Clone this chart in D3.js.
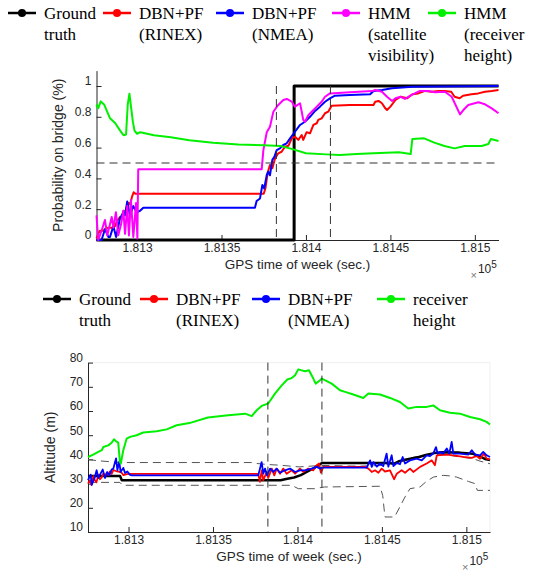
<!DOCTYPE html>
<html>
<head>
<meta charset="utf-8">
<script src="https://cdn.jsdelivr.net/npm/d3@7"></script>
<style>
  body { margin: 0; background: #fff; }
  svg { display: block; }
  .sans { font-family: "Liberation Sans", Arial, sans-serif; }
  .serif { font-family: "Liberation Serif", "Times New Roman", serif; }
</style>
</head>
<body>
<script>
// GPS time of week, seconds; series times are offsets from T0
const T0 = 181276;
const T_END = 181514;
const xTickValues = [181300, 181350, 181400, 181450, 181500];
const xTickLabels = ['1.813', '1.8135', '1.814', '1.8145', '1.815'];
const bridgeMarks = [106.5, 138.5];   // dashed vertical markers (offset s)

const topYTicks = [0, 0.2, 0.4, 0.6, 0.8, 1];
const topYLabels = ['0', '0.2', '0.4', '0.6', '0.8', '1'];
const botYTicks = [10, 20, 30, 40, 50, 60, 70, 80];

const topLegend = [
  { name: ['Ground', 'truth'], color: '#000000' },
  { name: ['DBN+PF', '(RINEX)'], color: '#ff0000' },
  { name: ['DBN+PF', '(NMEA)'], color: '#0000ff' },
  { name: ['HMM', '(satellite', 'visibility)'], color: '#ff00ff' },
  { name: ['HMM', '(receiver', 'height)'], color: '#00f000' }
];
const botLegend = [
  { name: ['Ground', 'truth'], color: '#000000' },
  { name: ['DBN+PF', '(RINEX)'], color: '#ff0000' },
  { name: ['DBN+PF', '(NMEA)'], color: '#0000ff' },
  { name: ['receiver', 'height'], color: '#00f000' }
];

// ---- top panel: probability on bridge ----
const topGround = [[0, 0], [117, 0], [117, 1], [238, 1]];

const topRinex = [[0, 0.01], [1, 0.04], [2, 0.06], [4, 0.06], [5, 0.07], [7, 0.08], [9, 0.08], [11, 0.09],
  [12, 0.12], [14, 0.15], [15, 0.14], [16, 0.19], [17, 0.18], [18, 0.22], [19, 0.24], [20, 0.23], [21, 0.28],
  [22, 0.31], [23, 0.3], [99, 0.3], [100, 0.335], [101.4, 0.44], [102.7, 0.487], [104.1, 0.466], [105.7, 0.53],
  [107.6, 0.563], [109.6, 0.573], [111.6, 0.606], [113.6, 0.612], [115.6, 0.66], [117.5, 0.671], [119.5, 0.65],
  [121.5, 0.682], [122.4, 0.65], [124.4, 0.70], [126.4, 0.693], [128.4, 0.747], [130.4, 0.758], [131.3, 0.78],
  [133.3, 0.79], [135.3, 0.823], [137.2, 0.833], [139.2, 0.872], [150, 0.877], [164, 0.877], [165, 0.898],
  [167, 0.903], [169, 0.888], [171, 0.855], [172, 0.844], [174, 0.866], [177, 0.909], [180, 0.93], [184, 0.92],
  [187, 0.946], [190.5, 0.952], [194.5, 0.968], [198.5, 0.963], [202.5, 0.968], [206, 0.968], [210, 0.963],
  [212, 0.93], [215, 0.92], [217, 0.937], [222, 0.946], [226, 0.952], [230, 0.963], [234, 0.968], [238, 0.974]];

const topNmea = [[0, 0], [3, 0], [5, 0.07], [7, 0.02], [8, 0.02], [10, 0.09], [11.6, 0.02], [13.9, 0.14],
  [15.9, 0.18], [16.9, 0.16], [18.2, 0.25], [19.8, 0.16], [21.8, 0.22], [23.8, 0.18], [25.8, 0.19], [27.7, 0.21],
  [93.8, 0.21], [94.8, 0.253], [96.8, 0.27], [98.2, 0.357], [99.3, 0.335], [100.8, 0.422], [101.7, 0.443],
  [102.7, 0.42], [104.1, 0.52], [105.3, 0.54], [106.7, 0.584], [108.6, 0.595], [110.6, 0.617], [112.6, 0.628],
  [114.6, 0.66], [117.5, 0.703], [120.5, 0.747], [123.4, 0.768], [126.4, 0.80], [129.4, 0.838], [132.3, 0.866],
  [135.3, 0.898], [138.2, 0.92], [141.2, 0.937], [150, 0.942], [162, 0.946], [164, 0.968], [169, 0.974],
  [175, 0.985], [187, 0.995], [238, 1.0]];

const topSatVis = [[0, 0.16], [1, 0], [3, 0.06], [5, 0.13], [6.4, 0.03], [9, 0.15], [10, 0.08], [11.5, 0.18],
  [12.9, 0.03], [14.5, 0.1], [15.9, 0.19], [16.9, 0.04], [18.2, 0.22], [19.2, 0.03], [20.4, 0.26], [21.8, 0.02],
  [23.4, 0.24], [24.2, 0.01], [24.7, 0.46], [97.8, 0.46], [98.8, 0.584], [100.8, 0.70], [102.7, 0.736],
  [104.7, 0.833], [107.6, 0.877], [110.6, 0.909], [112.6, 0.916], [115.6, 0.898], [117.5, 0.866], [120.5, 0.888],
  [121.5, 0.833], [122.4, 0.78], [123.4, 0.768], [125.4, 0.81], [127.4, 0.833], [130.4, 0.866], [133.3, 0.898],
  [135.3, 0.93], [138.2, 0.952], [150, 0.959], [163, 0.967], [165, 0.974], [169, 0.963], [172, 0.93],
  [175, 0.903], [177, 0.92], [180, 0.93], [182.6, 0.916], [186.6, 0.942], [191.5, 0.968], [196.4, 0.968],
  [200.4, 0.959], [206.3, 0.963], [210.3, 0.93], [215.2, 0.816], [217.2, 0.844], [220.1, 0.877], [226.1, 0.894],
  [230, 0.881], [234, 0.855], [238, 0.823]];

const topHeight = [[0, 0.88], [1, 0.855], [2.5, 0.90], [4.5, 0.88], [8, 0.79], [11, 0.76], [14, 0.71],
  [16, 0.68], [17.5, 0.685], [18.5, 0.88], [19.5, 0.95], [20.5, 0.86], [21.5, 0.77], [22.5, 0.71], [24, 0.69],
  [26, 0.70], [34, 0.68], [44, 0.667], [55, 0.648], [69, 0.632], [84, 0.62], [99, 0.615], [109, 0.61],
  [116, 0.59], [124, 0.563], [136, 0.556], [144, 0.552], [154, 0.558], [164, 0.563], [179, 0.57], [186, 0.558],
  [187, 0.656], [194, 0.66], [200, 0.632], [206, 0.61], [212, 0.595], [218, 0.61], [228, 0.61], [232, 0.623],
  [233.5, 0.656], [238, 0.643]];

// ---- bottom panel: altitude (m) ----
const botGround = [[0, 33.1], [19, 33.1], [20, 31.4], [114, 31.4], [118, 32], [122, 32.5], [126, 33.5],
  [130, 35], [134, 36.5], [138.5, 38.5], [178, 38.5], [181, 38.2], [184, 39.2], [190, 40.2], [196, 41],
  [200, 41.8], [205, 42.6], [210, 43], [220, 42.8], [228, 42.3], [232, 41.2], [235, 40.2], [238, 39.7]];

const botRinex = [[0, 30], [1.2, 31.4], [2, 29.5], [3.2, 33.1], [4.1, 31.4], [5, 30.5], [6.1, 33.7], [7.1, 31.8],
  [8, 32.5], [9.1, 34.2], [10, 32.8], [11.1, 34.5], [12, 33.5], [13, 35], [14, 34], [15, 35.6], [16.6, 35.2],
  [17.9, 35], [19.9, 34.5], [21, 33.5], [22.9, 33.9], [25, 34], [100.8, 34], [101.8, 30.7], [102.8, 35.5],
  [103.8, 31.4], [105.8, 34.8], [106.7, 32.3], [108.8, 36.2], [110.3, 33.4], [111.7, 36.2], [113.7, 34.1],
  [115.6, 36.2], [117.6, 34.1], [120.6, 35.5], [122.6, 34.1], [125.5, 36.2], [127.5, 34.8], [130.4, 36.2],
  [133.4, 35.5], [135.4, 37.6], [136.8, 38.3], [137.9, 34.5], [139.3, 36.9], [164, 36.9], [166, 36.2],
  [168, 34.8], [169.9, 35.5], [171.9, 34.5], [173.9, 36.2], [175.8, 35], [178.8, 35.5], [181.2, 31.8],
  [182.8, 34.1], [185.7, 35.5], [187.7, 34.5], [190.6, 36.2], [192.6, 34.8], [196.6, 36.9], [200.5, 38.3],
  [203.5, 39.6], [205.4, 37.6], [206.5, 41.7], [212.4, 42], [216.3, 41.7], [222.2, 41], [227.2, 40.6],
  [230.1, 41.4], [232.1, 40.3], [234.5, 42.4], [236, 40.3], [238, 40]];

const botNmea = [[0, 31.4], [1.6, 33.7], [2.2, 29.5], [4.1, 32.8], [5.1, 35.5], [6.1, 32.3], [7.1, 33.7],
  [8.7, 35.8], [10.1, 32.3], [11.4, 34.8], [12.6, 33.4], [14, 35.8], [15, 36.2], [16.6, 40.4], [17.4, 35.6],
  [18.5, 39.1], [19.3, 34.8], [20.9, 36.5], [21.9, 34.4], [23.3, 35], [24.9, 33.6], [26, 33.4], [100.8, 33.4],
  [102.8, 38.9], [103.8, 34.1], [104.8, 36.2], [106, 33.4], [107.8, 36.2], [109.7, 34.8], [111.7, 36.2],
  [113.7, 34.5], [116.6, 35.5], [119.6, 36.2], [122.6, 34.8], [125.5, 35.5], [128.5, 35.5], [132.4, 36.2],
  [135.4, 36.9], [137.4, 36.2], [138.4, 36.6], [165, 36.6], [167, 39.6], [168, 36.9], [169, 38.9], [171, 37],
  [172.9, 38.3], [174.8, 37.2], [176.8, 42.4], [177.8, 37], [179.8, 41.7], [180.8, 37.2], [182.8, 38.5],
  [184.7, 38], [186.3, 41], [187.7, 38.3], [190.6, 39.6], [194.6, 40.3], [197.6, 39.6], [200.5, 41.7],
  [202.5, 41.4], [204.4, 42.4], [206, 45.1], [207, 42.4], [208.4, 43.1], [210.3, 42.4], [212.4, 44.5],
  [213.9, 42.4], [215.3, 47.2], [216.3, 42.4], [220.2, 42.4], [225.2, 42], [227.2, 43.8], [229.2, 42],
  [232.1, 41.7], [234, 43.1], [236, 41.7], [238, 41]];

const botHeight = [[0, 41], [3.1, 42], [6.1, 43.1], [8.1, 43.8], [9.1, 45.1], [12, 45.8], [14, 46.9],
  [15.4, 48.3], [16.6, 47.5], [17.9, 46.9], [18.9, 38.9], [19.4, 38.3], [20.9, 43.8], [22.9, 48.6], [24.9, 49.3],
  [28.8, 50], [32.7, 51.1], [40.7, 51.6], [46.6, 52.4], [52.5, 54.1], [60, 55], [71, 57.3], [83, 58.2],
  [93, 58.9], [96.9, 57.9], [99.9, 60.3], [102.8, 62.1], [106.7, 63.1], [110.7, 67.2], [114.7, 70.6], [118, 73],
  [120.6, 73.6], [122.6, 74.8], [124.5, 77.2], [126.5, 76.8], [128.5, 76.4], [130.8, 76.8], [133.4, 73.4],
  [134.8, 71.3], [137.4, 72.7], [138.4, 73.4], [144.3, 71.3], [149.2, 68.6], [152.2, 67.9], [157.1, 66.8],
  [163, 65.4], [166, 67.2], [172.9, 66.8], [178.8, 65.4], [184.7, 63.7], [189.6, 61], [194.6, 61.7],
  [200.5, 61.7], [204.4, 62.3], [208.4, 60.3], [214.3, 59.3], [220.2, 58.9], [226.2, 57.5], [232.1, 56.6],
  [236, 55.5], [238, 54.4]];

const botUpper = [[0, 40], [5, 39.5], [18.9, 38.7], [96.9, 38.7], [100, 38.3], [106, 37.9], [113.7, 37.6],
  [125, 36.9], [138, 37.5], [160, 37.2], [175, 37.5], [185, 39.5], [190, 40.5], [204, 42.4], [214, 41.7],
  [220, 41], [228, 40.3], [232, 39.3], [238, 38.2]];

const botLower = [[0, 30.5], [18.9, 30.5], [20.5, 29.3], [120.6, 29.3], [124.5, 27.9], [134, 27.9],
  [140, 28.6], [172.9, 28.9], [174.5, 25], [175.8, 16.2], [181.5, 16.2], [184.7, 20.5], [187.7, 24.5],
  [190.6, 27.9], [196.6, 28.6], [200.5, 31], [204.5, 32.7], [210.3, 33.4], [214, 33.2], [218.2, 32.7],
  [225.2, 30.9], [229.1, 30], [230.5, 27.2], [238, 27.2]];

const svg = d3.select('body').append('svg')
  .attr('width', 556)
  .attr('height', 574)
  .style('background', '#fff');

const axisColor = '#262626';

function drawPanel(x, y, yTicks, yLabels, yTitle, yTitleX) {
  const g = svg.append('g').attr('class', 'sans');
  const [x0, x1] = x.range();
  const [yb, yt] = y.range();

  const xAxis = d3.axisBottom(x)
    .tickValues(xTickValues)
    .tickFormat((d, i) => xTickLabels[i])
    .tickSizeInner(-5).tickSizeOuter(0).tickPadding(3);
  const yAxis = d3.axisLeft(y)
    .tickValues(yTicks)
    .tickFormat((d, i) => yLabels[i])
    .tickSizeInner(-5).tickSizeOuter(0).tickPadding(5);

  const gx = g.append('g').attr('transform', `translate(0, ${yb})`).call(xAxis);
  const gy = g.append('g').attr('transform', `translate(${x0}, 0)`).call(yAxis);
  gy.selectAll('.tick text').attr('y', -5);
  [gx, gy].forEach(a => {
    a.attr('font-family', null).attr('font-size', null);
    a.selectAll('path, line').attr('stroke', axisColor);
    a.selectAll('text').attr('fill', axisColor).style('font-size', '12px');
  });

  g.append('text')
    .attr('x', (x0 + x1) / 2)
    .attr('y', yb + 29)
    .attr('text-anchor', 'middle')
    .attr('fill', axisColor)
    .style('font-size', '13.5px')
    .text('GPS time of week (sec.)');

  g.append('text')
    .attr('transform', `translate(${yTitleX}, ${(yb + yt) / 2}) rotate(-90)`)
    .attr('text-anchor', 'middle')
    .attr('dy', '0.35em')
    .attr('fill', axisColor)
    .style('font-size', '14px')
    .text(yTitle);

  // x10^5 multiplier
  const m = g.append('text')
    .attr('x', x1 - 28)
    .attr('y', yb + 39)
    .attr('fill', axisColor);
  m.append('tspan').style('font-size', '11px').attr('fill', '#777').text('\u00d7');
  m.append('tspan').attr('dx', 1).attr('dy', -6).style('font-size', '12px').text('10');
  m.append('tspan').attr('dy', -5).style('font-size', '10px').text('5');

  return g;
}

function dashed(g, pts) {
  g.append('path')
    .attr('d', d3.line()(pts))
    .attr('fill', 'none')
    .attr('stroke', '#333')
    .attr('stroke-width', 1)
    .attr('stroke-dasharray', '8,5');
}

function series(g, x, y, data, color, width) {
  const line = d3.line()
    .x(d => x(T0 + d[0]))
    .y(d => y(d[1]));
  g.append('path')
    .datum(data)
    .attr('d', line)
    .attr('fill', 'none')
    .attr('stroke', color)
    .attr('stroke-width', width)
    .attr('stroke-linejoin', 'round');
}

function legend(entries, starts, y0) {
  const lg = svg.append('g').attr('class', 'serif');
  entries.forEach((e, i) => {
    const sx = starts[i];
    lg.append('line')
      .attr('x1', sx).attr('x2', sx + 28)
      .attr('y1', y0).attr('y2', y0)
      .attr('stroke', e.color).attr('stroke-width', 2.5);
    lg.append('circle')
      .attr('cx', sx + 14).attr('cy', y0).attr('r', 4)
      .attr('fill', e.color);
    e.name.forEach((t, j) => {
      lg.append('text')
        .attr('x', sx + 36)
        .attr('y', y0 + 6 + j * 21)
        .attr('fill', '#000')
        .style('font-size', '17px')
        .text(t);
    });
  });
}

// ---------- top ----------
const topX = d3.scaleLinear().domain([T0, T_END]).range([96.5, 498.5]);
const topY = d3.scaleLinear().domain([0, 1.1]).range([240, 70.6]);
const gTop = drawPanel(topX, topY, topYTicks, topYLabels, 'Probability on bridge (%)', 58);

series(gTop, topX, topY, topGround, '#000', 3);
series(gTop, topX, topY, topRinex, '#ff0000', 2);
series(gTop, topX, topY, topNmea, '#0000ff', 2);
series(gTop, topX, topY, topSatVis, '#ff00ff', 2);
series(gTop, topX, topY, topHeight, '#00f000', 2);

dashed(gTop, [[topX(T0), topY(0.5)], [topX(T_END), topY(0.5)]]);
bridgeMarks.forEach(t => dashed(gTop, [[topX(T0 + t), topY(1)], [topX(T0 + t), topY(0)]]));

legend(topLegend, [8, 103, 216, 332, 428], 13);

// ---------- bottom ----------
const botX = d3.scaleLinear().domain([T0, T_END]).range([88, 490]);
const botY = d3.scaleLinear().domain([10, 80]).range([532, 362.6]);

// faint box edges
svg.append('path')
  .attr('d', d3.line()([[botX(T0), botY(80)], [botX(T_END), botY(80)], [botX(T_END), botY(10)]]))
  .attr('fill', 'none').attr('stroke', '#f0f0f0');

const gBot = drawPanel(botX, botY, botYTicks, botYTicks.map(String), 'Altitude (m)', 50);

const boundLine = d3.line().x(d => botX(T0 + d[0])).y(d => botY(d[1]));
[botUpper, botLower].forEach(b => {
  gBot.append('path')
    .attr('d', boundLine(b))
    .attr('fill', 'none')
    .attr('stroke', '#555')
    .attr('stroke-width', 1)
    .attr('stroke-dasharray', '8,5');
});

series(gBot, botX, botY, botGround, '#000', 2.5);
series(gBot, botX, botY, botRinex, '#ff0000', 1.8);
series(gBot, botX, botY, botNmea, '#0000ff', 1.8);
series(gBot, botX, botY, botHeight, '#00f000', 2);

bridgeMarks.forEach(t => dashed(gBot, [[botX(T0 + t), botY(80)], [botX(T0 + t), botY(10)]]));

legend(botLegend, [43, 140, 252, 377], 299);
</script>
</body>
</html>
